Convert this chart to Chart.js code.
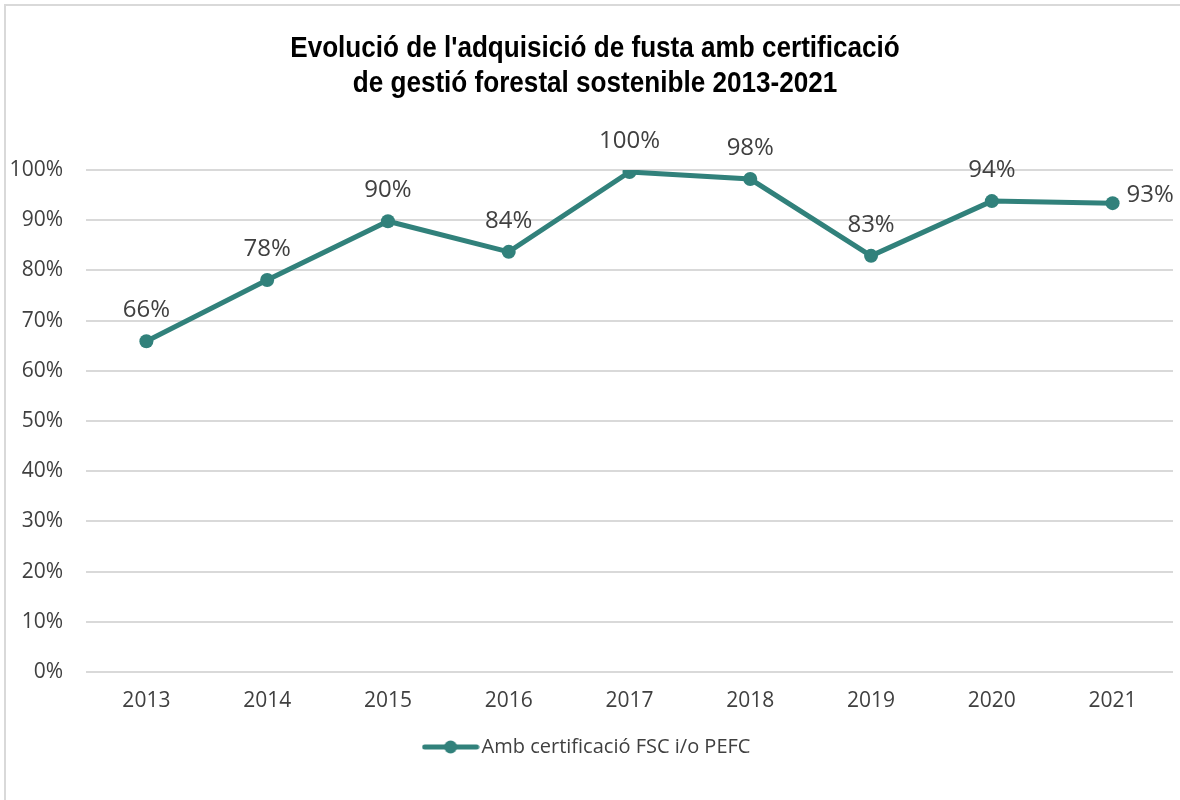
<!DOCTYPE html>
<html>
<head>
<meta charset="utf-8">
<script src="https://cdn.jsdelivr.net/npm/chart.js@4"></script>
<style>
  html, body { margin: 0; padding: 0; background: #fff; }
  #wrap { position: relative; width: 1180px; height: 800px; overflow: hidden; }
  #frame { position: absolute; left: 4px; top: 4px; width: 1200px; height: 820px;
           border: 2px solid #d9d9d9; pointer-events: none; }
  canvas { position: absolute; left: 0; top: 0; }
</style>
</head>
<body>
<div id="wrap">
  <canvas id="chart" width="1180" height="800"></canvas>
  <div id="frame"></div>
</div>
<script>
// Chart data
const years = ['2013', '2014', '2015', '2016', '2017', '2018', '2019', '2020', '2021'];
const certifiedShare = [65.9, 78.1, 89.8, 83.7, 99.6, 98.2, 82.9, 93.8, 93.4];
const yTicks = [0, 10, 20, 30, 40, 50, 60, 70, 80, 90, 100];
const seriesName = 'Amb certificació FSC i/o PEFC';
const titleLines = [
    "Evolució de l'adquisició de fusta amb certificació",
    'de gestió forestal sostenible 2013-2021'
];

const TEAL = '#31817b';
const TEXT = '#404040';
const BODY_FONT = "'Open Sans', 'Noto Sans', sans-serif";

// legend marker: line with a dot, like the spreadsheet legend
function legendMarker() {
    const c = document.createElement('canvas');
    c.width = 58;
    c.height = 16;
    const g = c.getContext('2d');
    g.strokeStyle = TEAL;
    g.lineWidth = 5;
    g.lineCap = 'round';
    g.beginPath();
    g.moveTo(3, 8);
    g.lineTo(55, 8);
    g.stroke();
    g.fillStyle = TEAL;
    g.beginPath();
    g.arc(29, 8, 6.5, 0, Math.PI * 2);
    g.fill();
    return c;
}

// condensed bold title (drawn narrower than the stock font)
const narrowTitle = {
    id: 'narrowTitle',
    afterDraw(chart) {
        const ctx = chart.ctx;
        ctx.save();
        ctx.font = "bold 29px 'Liberation Sans', Arial, sans-serif";
        ctx.fillStyle = '#000';
        ctx.textAlign = 'center';
        ctx.textBaseline = 'alphabetic';
        ctx.translate(595, 0);
        ctx.scale(0.9, 1);
        titleLines.forEach((line, i) => {
            ctx.fillText(line, 0, 57 + i * 35);
        });
        ctx.restore();
    }
};

// value labels above points (last one to the right)
const valueLabels = {
    id: 'valueLabels',
    afterDatasetsDraw(chart) {
        const ctx = chart.ctx;
        const meta = chart.getDatasetMeta(0);
        ctx.save();
        ctx.font = '24px ' + BODY_FONT;
        ctx.fillStyle = TEXT;
        meta.data.forEach((pt, i) => {
            const txt = Math.round(certifiedShare[i]) + '%';
            if (i === meta.data.length - 1) {
                ctx.textAlign = 'left';
                ctx.textBaseline = 'middle';
                ctx.fillText(txt, pt.x + 14, pt.y - 8);
            } else {
                ctx.textAlign = 'center';
                ctx.textBaseline = 'alphabetic';
                ctx.fillText(txt, pt.x, pt.y - 24);
            }
        });
        ctx.restore();
    }
};

new Chart(document.getElementById('chart').getContext('2d'), {
    type: 'line',
    data: {
        labels: years,
        datasets: [{
            label: seriesName,
            data: certifiedShare,
            borderColor: TEAL,
            backgroundColor: TEAL,
            borderWidth: 5,
            pointRadius: 7,
            pointHoverRadius: 7,
            pointBackgroundColor: TEAL,
            pointBorderWidth: 0,
            tension: 0,
            fill: false,
            pointStyle: 'circle'
        }]
    },
    options: {
        responsive: false,
        animation: false,
        layout: { padding: { top: 170, left: 6, right: 6, bottom: 33 } },
        plugins: {
            title: { display: false },
            legend: {
                position: 'bottom',
                labels: {
                    usePointStyle: true,
                    pointStyle: legendMarker(),
                    pointStyleWidth: 42,
                    color: TEXT,
                    font: { family: BODY_FONT, size: 20 },
                    padding: 10
                }
            },
            tooltip: { enabled: false }
        },
        scales: {
            x: {
                offset: true,
                grid: { display: false, drawTicks: false },
                border: { display: false },
                ticks: { color: TEXT, font: { family: BODY_FONT, size: 21 }, padding: 16, maxRotation: 0 },
                afterFit(scale) { scale.height = 55; }
            },
            y: {
                min: 0,
                max: 100,
                afterBuildTicks(scale) { scale.ticks = yTicks.map(v => ({ value: v })); },
                grid: { color: '#d9d9d9', lineWidth: 2, drawTicks: false },
                border: { display: false },
                ticks: {
                    color: TEXT,
                    font: { family: BODY_FONT, size: 21 },
                    padding: 23,
                    callback: v => v + '%'
                },
                afterFit(scale) { scale.width = 80; }
            }
        }
    },
    plugins: [valueLabels, narrowTitle]
});
</script>
</body>
</html>
